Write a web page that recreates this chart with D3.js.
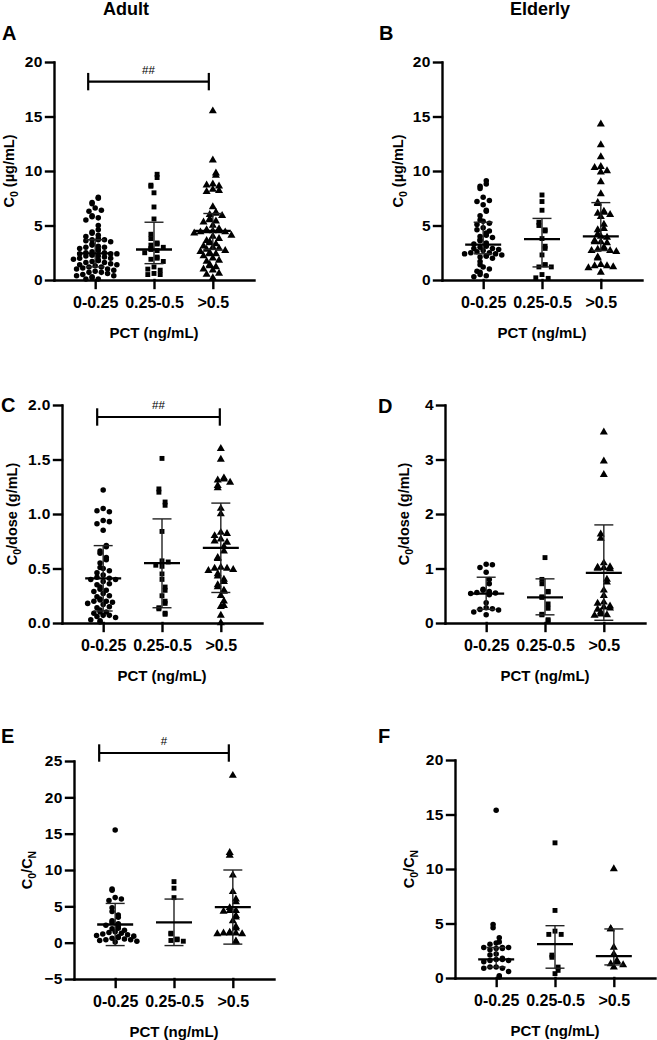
<!DOCTYPE html>
<html>
<head>
<meta charset="utf-8">
<script src="https://cdn.jsdelivr.net/npm/d3@7"></script>
<style>
  body { margin: 0; background: #fff; }
  svg text { font-family: "Liberation Sans", Arial, Helvetica, sans-serif; font-weight: bold; fill: #000; }
</style>
</head>
<body>
<svg id="fig" width="657" height="1040"></svg>
<script>
// PCT groups (x categories)
const groups = ["0-0.25", "0.25-0.5", ">0.5"];

// A — Adult, C0 (µg/mL)
const adultC0Low = [7.6, 7.5, 7.1, 7.0, 6.6, 6.4, 6.3, 5.9, 5.8, 5.7, 5.5, 5.0, 4.6, 4.4, 4.3, 4.1, 4.0, 3.8, 3.7, 3.7, 3.7,
  3.6, 3.5, 3.3, 3.2, 3.1, 3.0, 3.0, 2.9, 2.8, 2.7, 2.6, 2.5, 2.5, 2.4, 2.4, 2.4, 2.3, 2.3, 2.2, 2.2, 2.1, 2.0, 2.0,
  1.9, 1.8, 1.8, 1.7, 1.6, 1.6, 1.5, 1.4, 1.4, 1.3, 1.2, 1.2, 1.1, 1.0, 1.0, 0.9, 0.8, 0.7, 0.7, 0.6, 0.5, 0.4, 0.4,
  0.3, 0.2, 0.1, 0.1];
const adultC0Mid = [9.7, 9.4, 8.7, 8.6, 8.0, 6.7, 5.6, 4.2, 3.8, 3.4, 3.3, 3.2, 3.0, 2.9, 2.8, 2.7, 2.5, 2.1, 2.0, 1.9,
  1.7, 1.2, 1.0, 0.9, 0.6, 0.5, 0.5];
const adultC0High = [15.5, 11.0, 9.8, 9.6, 8.8, 8.7, 8.6, 8.3, 8.2, 8.1, 6.7, 6.2, 6.1, 6.0, 5.9, 5.6, 5.5, 5.4, 5.3, 5.0,
  4.7, 4.6, 4.5, 4.5, 4.5, 4.4, 4.4, 4.3, 4.1, 4.0, 3.8, 3.6, 3.5, 3.4, 3.3, 3.1, 3.0, 2.9, 2.8, 2.7, 2.6, 2.5, 2.4,
  2.4, 2.2, 2.0, 1.8, 1.7, 1.4, 1.3, 1.2, 1.0, 0.9, 0.6, 0.5, 0.2];
const adultC0Stats = [[2.45, 1.2, 3.7], [2.8, 1.5, 5.3], [4.5, 2.8, 6.1]]; // [centre, lower, upper]

// B — Elderly, C0 (µg/mL)
const elderC0Low = [9.1, 8.8, 8.6, 8.4, 7.6, 7.3, 7.2, 6.9, 6.4, 6.3, 5.9, 5.5, 5.4, 5.2, 5.1, 4.8, 4.6, 4.5, 4.3, 4.1,
  4.0, 3.9, 3.7, 3.6, 3.4, 3.3, 3.2, 3.1, 3.0, 2.9, 2.9, 2.8, 2.7, 2.6, 2.5, 2.5, 2.4, 2.4, 2.3, 2.2, 2.2, 2.1, 2.0,
  1.7, 1.4, 1.2, 1.0, 0.8, 0.7, 0.5, 0.4, 0.3];
const elderC0Mid = [7.8, 7.2, 6.4, 5.3, 5.0, 4.6, 4.5, 3.8, 3.1, 2.9, 2.3, 1.4, 1.4, 1.2, 1.2, 0.5, 0.2, 0.15];
const elderC0High = [14.3, 12.4, 11.3, 10.4, 10.3, 10.0, 9.9, 9.0, 7.9, 7.1, 7.0, 6.3, 6.2, 6.1, 6.0, 5.8, 5.1, 4.7,
  4.6, 4.2, 4.0, 3.9, 3.6, 3.5, 3.5, 3.4, 3.0, 2.9, 2.8, 2.7, 2.7, 2.6, 2.1, 2.0, 1.4, 1.3, 1.3, 1.2, 1.1, 0.7];
const elderC0Stats = [[3.25, 2.4, 5.3], [3.75, 1.2, 5.65], [4.0, 2.7, 7.1]];

// C — Adult, C0/dose (g/mL)
const adultDoseLow = [1.22, 1.05, 1.03, 1.02, 0.94, 0.93, 0.91, 0.85, 0.71, 0.70, 0.66, 0.64, 0.60, 0.58, 0.55, 0.51,
  0.50, 0.48, 0.46, 0.44, 0.42, 0.41, 0.40, 0.40, 0.38, 0.36, 0.35, 0.33, 0.31, 0.30, 0.29, 0.27, 0.25, 0.24, 0.22,
  0.21, 0.20, 0.20, 0.19, 0.18, 0.17, 0.15, 0.14, 0.12, 0.10, 0.10, 0.09, 0.07, 0.07, 0.06, 0.05, 0.03, 0.02, 0.01];
const adultDoseMid = [1.51, 1.23, 1.20, 1.11, 1.08, 0.84, 0.57, 0.56, 0.53, 0.52, 0.45, 0.40, 0.33, 0.30, 0.25, 0.20,
  0.18, 0.14, 0.13, 0.09, 0.08];
const adultDoseHigh = [1.60, 1.50, 1.33, 1.32, 1.31, 1.29, 1.26, 1.24, 1.05, 1.00, 0.83, 0.82, 0.80, 0.77, 0.75, 0.74,
  0.70, 0.66, 0.60, 0.59, 0.51, 0.50, 0.50, 0.49, 0.48, 0.45, 0.43, 0.40, 0.38, 0.35, 0.33, 0.30, 0.29, 0.25, 0.20,
  0.16, 0.15, 0.07, 0.0];
const adultDoseStats = [[0.41, 0.11, 0.71], [0.55, 0.14, 0.955], [0.69, 0.28, 1.10]];

// D — Elderly, C0/dose (g/mL)
const elderDoseLow = [1.08, 1.07, 1.02, 0.93, 0.80, 0.72, 0.62, 0.60, 0.58, 0.56, 0.55, 0.54, 0.53, 0.52, 0.37, 0.28,
  0.26, 0.25, 0.24, 0.20, 0.15];
const elderDoseMid = [1.20, 0.80, 0.72, 0.58, 0.57, 0.48, 0.47, 0.35, 0.27, 0.16, 0.15, 0.06, 0.04];
const elderDoseHigh = [3.50, 2.97, 2.72, 1.63, 1.55, 1.10, 1.03, 1.02, 1.01, 1.00, 0.99, 0.80, 0.75, 0.60, 0.50, 0.38,
  0.36, 0.31, 0.29, 0.27, 0.25, 0.20, 0.16, 0.15, 0.14];
const elderDoseStats = [[0.54, 0.25, 0.84], [0.47, 0.15, 0.81], [0.92, 0.05, 1.80]];

// E — Adult, C0/CN
const adultRatioLow = [15.5, 7.4, 7.2, 6.2, 6.0, 5.8, 4.8, 4.3, 3.8, 3.5, 3.0, 2.8, 2.6, 2.4, 2.2, 2.0, 1.9, 1.7, 1.5,
  1.4, 1.3, 1.2, 1.1, 1.0, 0.9, 0.8, 0.7, 0.6, 0.5, 0.4, 0.4, 0.3, 0.2, 0.1];
const adultRatioMid = [8.4, 7.5, 6.2, 1.3, 1.2, 0.5, 0.4, 0.3, 0.2];
const adultRatioHigh = [23.0, 12.4, 12.0, 9.3, 7.0, 6.0, 5.6, 4.8, 4.4, 4.4, 4.3, 3.7, 3.5, 3.0, 2.2, 2.0, 1.4, 1.3,
  1.3, 1.3, 1.2, 1.2, 0.2, 0.1];
const adultRatioStats = [[2.5, -0.4, 5.4], [2.8, -0.4, 6.0], [4.9, -0.2, 10.0]];

// F — Elderly, C0/CN
const elderRatioLow = [15.4, 4.9, 4.6, 3.7, 3.3, 3.2, 3.1, 2.8, 2.8, 2.8, 2.7, 2.7, 2.6, 2.2, 2.1, 1.8, 1.7, 1.7, 1.6,
  1.6, 1.5, 1.0, 1.0, 0.9, 0.9, 0.6, 0.2, 0.1];
const elderRatioMid = [12.4, 6.2, 4.3, 4.0, 4.0, 2.1, 1.9, 1.0, 0.7, 0.4];
const elderRatioHigh = [10.0, 4.5, 4.5, 2.8, 2.2, 1.6, 1.5, 1.3, 1.2, 1.0];
const elderRatioStats = [[1.7, 1.0, 2.8], [3.1, 0.9, 4.8], [2.0, 1.2, 4.5]];

const symbols = [d3.symbolCircle, d3.symbolSquare, d3.symbolTriangle];
const symSize = [24, 24, 28];

const C0 = [["C", 0], ["0", 1], [" (µg/mL)", 0]];
const C0dose = [["C", 0], ["0", 1], ["/dose (g/mL)", 0]];
const C0CN = [["C", 0], ["0", 1], ["/C", 0], ["N", 1]];

// layout of the six panels
const panels = [
  { letter: "A", lx: 2, ly: 40, title: "Adult", tx: 126, vals: [adultC0Low, adultC0Mid, adultC0High], stats: adultC0Stats,
    domain: [0, 20], ticks: [0, 5, 10, 15, 20], fmt: d3.format("d"), ylab: C0, left: 54, top: 62, ylx: -40,
    sig: { v: 18.2, txt: "##", d0: -7, d1: -4 } },
  { letter: "B", lx: 379, ly: 40, title: "Elderly", tx: 540, vals: [elderC0Low, elderC0Mid, elderC0High], stats: elderC0Stats,
    domain: [0, 20], ticks: [0, 5, 10, 15, 20], fmt: d3.format("d"), ylab: C0, left: 442, top: 62, ylx: -39 },
  { letter: "C", lx: 1, ly: 412, vals: [adultDoseLow, adultDoseMid, adultDoseHigh], stats: adultDoseStats,
    domain: [0, 2], ticks: [0, 0.5, 1, 1.5, 2], fmt: d3.format(".1f"), ylab: C0dose, left: 62, top: 405, ylx: -45,
    sig: { v: 1.89, txt: "##", d0: -6, d1: -1 } },
  { letter: "D", lx: 378, ly: 413, vals: [elderDoseLow, elderDoseMid, elderDoseHigh], stats: elderDoseStats,
    domain: [0, 4], ticks: [0, 1, 2, 3, 4], fmt: d3.format("d"), ylab: C0dose, left: 445, top: 405, ylx: -36 },
  { letter: "E", lx: 1, ly: 743, vals: [adultRatioLow, adultRatioMid, adultRatioHigh], stats: adultRatioStats,
    domain: [-5, 25], ticks: [-5, 0, 5, 10, 15, 20, 25], fmt: d3.format("d"), ylab: C0CN, left: 74, top: 761, ylx: -42,
    sig: { v: 26.1, txt: "#", d0: -16, d1: -4 } },
  { letter: "F", lx: 378, ly: 743, vals: [elderRatioLow, elderRatioMid, elderRatioHigh], stats: elderRatioStats,
    domain: [0, 20], ticks: [0, 5, 10, 15, 20], fmt: d3.format("d"), ylab: C0CN, left: 455, top: 760, ylx: -41 }
];

const W = 200, H = 218;
const svg = d3.select("#fig");

// scatter-dot layout: values closer than rowH pixels share a row
// and are spread sideways from the centre, dx apart
function swarm(values, y, cx, dx, rowH) {
  const pts = values.map(v => ({ v, py: y(v) })).sort((a, b) => a.py - b.py);
  const rows = [];
  pts.forEach(p => {
    const last = rows[rows.length - 1];
    if (last && p.py - last[0].py < rowH) last.push(p);
    else rows.push([p]);
  });
  rows.forEach((r, ri) => {
    const flip = ri % 2 ? -1 : 1;
    const even = r.length % 2 === 0;
    r.forEach((p, j) => {
      const k = Math.ceil(j / 2) * (j % 2 ? 1 : -1);
      const off = even ? k + (j % 2 ? -0.5 : 0.5) : k;
      p.px = cx + flip * off * dx;
    });
  });
  return pts;
}

panels.forEach(p => {
  const g = svg.append("g");
  const x = d3.scalePoint().domain(groups).range([p.left, p.left + W]).padding(0.7);
  const y = d3.scaleLinear().domain(p.domain).range([p.top + H, p.top]);

  // axes
  const xa = g.append("g").attr("transform", `translate(0,${p.top + H})`)
    .call(d3.axisBottom(x).tickSize(8).tickSizeOuter(0).tickPadding(9));
  xa.selectAll("text").style("font-size", "16px");
  const ya = g.append("g").attr("transform", `translate(${p.left},0)`)
    .call(d3.axisLeft(y).tickValues(p.ticks).tickFormat(p.fmt).tickSize(8).tickSizeOuter(0).tickPadding(3));
  ya.selectAll("text").style("font-size", "15.5px").style("letter-spacing", "0.5px");
  g.selectAll(".domain, .tick line").attr("stroke", "#000").attr("stroke-width", 2.4).attr("stroke-linecap", "square");

  // points
  p.vals.forEach((vals, i) => {
    const cx = x(groups[i]);
    g.append("g").selectAll("path")
      .data(swarm(vals, y, cx, 6.2, 4.6))
      .join("path")
      .attr("d", d3.symbol(symbols[i], symSize[i]))
      .attr("transform", d => `translate(${d.px},${d.py})`)
      .attr("fill", "#000");
  });

  // centre line + error bars
  p.stats.forEach(([c, lo, hi], i) => {
    const cx = x(groups[i]);
    const s = g.append("g").attr("stroke", "#222").attr("stroke-width", 1.4).attr("fill", "none");
    s.append("line").attr("x1", cx).attr("x2", cx).attr("y1", y(lo)).attr("y2", y(hi));
    [lo, hi].forEach(v => s.append("line").attr("x1", cx - 9.5).attr("x2", cx + 9.5).attr("y1", y(v)).attr("y2", y(v)));
    s.append("line").attr("x1", cx - 18).attr("x2", cx + 18).attr("y1", y(c)).attr("y2", y(c))
      .attr("stroke", "#000").attr("stroke-width", 2.3);
  });

  // significance bracket
  if (p.sig) {
    const x0 = x(groups[0]) + p.sig.d0, x1 = x(groups[2]) + p.sig.d1, sy = y(p.sig.v);
    const b = g.append("g").attr("stroke", "#000").attr("stroke-width", 2.2);
    b.append("line").attr("x1", x0).attr("x2", x1).attr("y1", sy).attr("y2", sy);
    [x0, x1].forEach(xx => b.append("line").attr("x1", xx).attr("x2", xx).attr("y1", sy - 8.7).attr("y2", sy + 8.7));
    g.append("text").attr("x", (x0 + x1) / 2).attr("y", sy - 8).attr("text-anchor", "middle")
      .style("font-size", "11.5px").style("font-weight", "normal").text(p.sig.txt);
  }

  // y axis title with subscripts
  const yt = g.append("text")
    .attr("transform", `translate(${p.left + p.ylx},${p.top + H / 2}) rotate(-90)`)
    .attr("text-anchor", "middle").style("font-size", "14.5px");
  let sub = false;
  p.ylab.forEach(([t, s]) => {
    const ts = yt.append("tspan").text(t);
    if (s && !sub) ts.attr("dy", 4).style("font-size", "10.5px");
    else if (!s && sub) ts.attr("dy", -4);
    else if (s) ts.style("font-size", "10.5px");
    sub = !!s;
  });

  // x axis title
  g.append("text").attr("x", p.left + W / 2).attr("y", p.top + H + 58).attr("text-anchor", "middle")
    .style("font-size", "15px").text("PCT (ng/mL)");

  // panel letter and column title
  g.append("text").attr("x", p.lx).attr("y", p.ly).style("font-size", "20px").text(p.letter);
  if (p.title) {
    g.append("text").attr("x", p.tx).attr("y", 15).attr("text-anchor", "middle")
      .style("font-size", "18px").text(p.title);
  }
});
</script>
</body>
</html>
